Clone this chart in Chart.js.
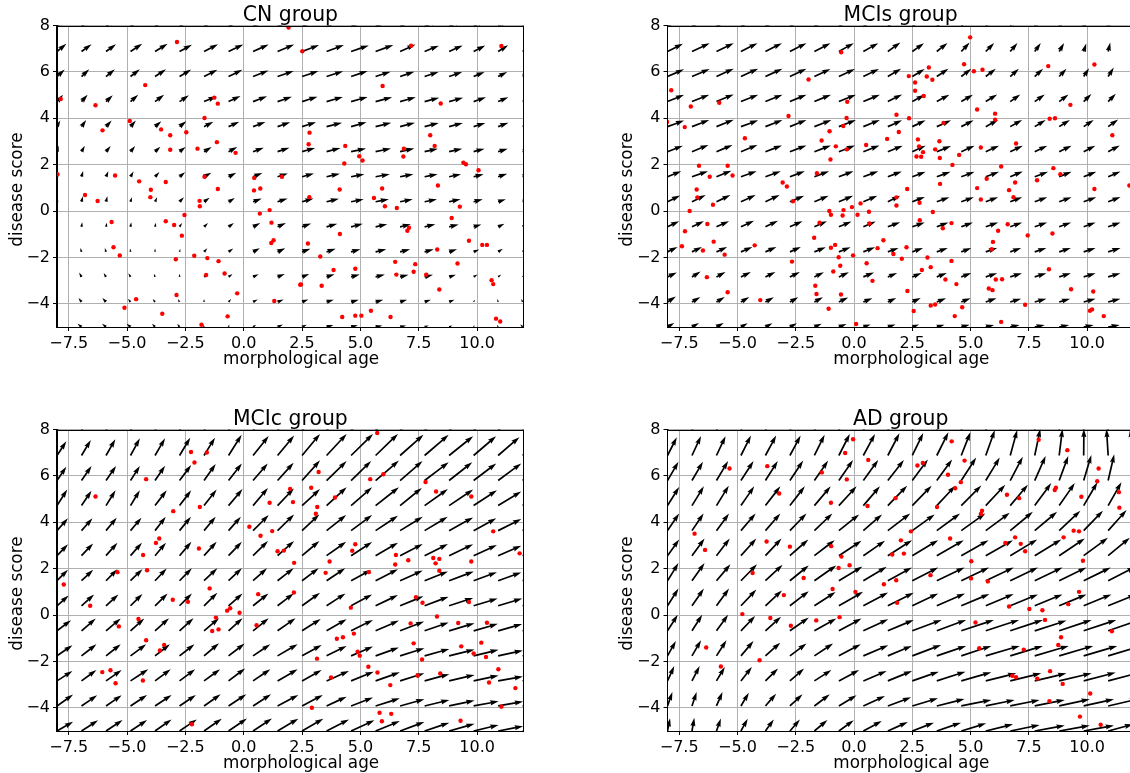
<!DOCTYPE html>
<html><head><meta charset="utf-8">
<script src="https://cdn.jsdelivr.net/npm/chart.js@4"></script>
<style>
html,body{margin:0;padding:0;background:#fff;width:1130px;height:773px;overflow:hidden}
canvas{position:absolute}
</style></head><body>
<canvas id="c0" style="left:0;top:0"></canvas>
<canvas id="c1" style="left:610px;top:0"></canvas>
<canvas id="c2" style="left:0;top:404px"></canvas>
<canvas id="c3" style="left:610px;top:404px"></canvas>
<script>
const xTicks=[-7.5,-5,-2.5,0,2.5,5,7.5,10];
const yTicks=[-4,-2,0,2,4,6,8];
const gridX=[-8,-6.95,-5.9,-4.85,-3.8,-2.75,-1.7,-0.65,0.4,1.45,2.5,3.55,4.6,5.65,6.7,7.75,8.8,9.85,10.9,11.95];
const gridY=[7.96,6.88,5.8,4.72,3.64,2.56,1.48,0.4,-0.68,-1.76,-2.84,-3.92,-5];

const cnX=[1.92,-2.86,-4.22,-7.84,-6.35,-1.26,-1.11,-1.68,-4.88,-6.05,-3.54,-3.15,-2.46,-3.15,-1.98,-1.15,-0.35,-7.98,-5.51,-1.68,0.45,1.64,-4.48,-3.34,-3.98,-1.11,0.44,0.71,-6.8,-6.26,-4.0,-1.89,-1.88,1.11,0.69,1.19,-2.54,-3.34,-5.66,-2.98,-2.65,1.28,1.18,-5.58,-5.31,-2.91,-2.12,-1.56,-1.08,-0.82,-1.61,2.42,-0.28,-2.88,-4.61,-5.11,1.31,-3.49,-0.69,-1.81,2.51,7.17,11.04,5.95,8.44,2.82,7.99,2.78,8.18,4.35,6.86,6.84,4.95,5.09,4.31,9.41,9.52,10.06,8.32,4.11,5.93,2.81,5.58,6.05,6.56,9.26,8.91,7.08,7.01,4.12,2.75,3.28,9.65,10.22,10.42,8.29,6.49,7.35,7.28,6.54,9.16,7.82,3.85,4.78,2.45,3.34,10.62,10.69,8.38,5.45,4.22,4.78,5.04,6.29,10.81,10.99];
const cnY=[7.91,7.29,5.43,4.83,4.56,4.89,4.63,4.01,3.88,3.48,3.52,3.27,3.4,2.64,2.69,2.97,2.51,1.59,1.53,1.48,1.43,1.48,1.28,1.25,0.92,0.95,0.89,0.97,0.69,0.43,0.6,0.44,0.21,0.04,-0.11,-0.5,-0.17,-0.44,-0.47,-0.6,-1.06,-1.26,-1.38,-1.56,-1.92,-2.08,-1.93,-2.03,-2.16,-2.69,-2.76,-3.18,-3.55,-3.62,-3.8,-4.17,-3.88,-4.43,-4.54,-4.9,6.89,7.13,7.12,5.39,4.64,3.38,3.27,2.88,2.81,2.81,2.69,2.35,2.36,2.18,2.05,2.08,2.02,1.76,1.1,0.93,0.97,0.6,0.56,0.21,0.13,0.19,-0.3,-0.72,-0.85,-0.99,-1.4,-1.96,-1.28,-1.46,-1.46,-1.66,-2.19,-2.29,-2.62,-2.74,-2.26,-2.75,-2.54,-2.49,-3.17,-3.22,-2.98,-3.15,-3.38,-4.3,-4.57,-4.51,-4.51,-4.57,-4.64,-4.76];

const mcisX=[-0.55,-7.84,-1.95,-7.0,-5.78,-0.29,-2.81,-8.02,-7.26,-0.32,-0.46,-1.05,-4.68,-1.39,0.52,-0.78,-0.31,-1.01,-6.65,-5.42,-6.19,-5.21,-1.59,-3.06,-6.75,-2.88,-6.72,-6.05,-7.05,-6.29,-7.25,-7.38,-6.48,-6.02,-5.55,-6.31,-5.42,-4.26,-4.02,-2.62,-2.66,-1.71,-1.48,-1.06,-0.99,-0.45,-0.49,-0.09,0.28,0.15,0.64,0.66,-0.99,-0.81,-0.66,-0.04,-0.59,-0.89,0.54,1.01,0.79,-1.66,-1.61,-0.56,-1.09,0.09,4.98,4.72,3.21,8.33,10.31,5.14,5.51,2.35,3.12,2.62,3.36,2.62,2.99,9.28,5.28,1.82,6.05,2.36,6.05,8.39,8.62,3.84,1.92,1.42,11.08,2.74,3.66,2.79,6.95,5.44,2.96,3.48,2.68,2.88,3.68,4.51,4.22,6.31,8.55,8.85,7.85,5.69,6.91,3.69,5.28,2.28,6.65,10.31,11.81,6.84,1.82,1.82,2.81,5.44,3.38,2.82,4.18,6.59,3.81,6.18,7.45,8.51,1.26,5.96,2.25,5.91,1.69,2.05,3.15,4.18,2.91,3.29,8.36,3.92,6.08,6.35,4.39,5.78,5.94,9.31,10.26,2.29,3.29,3.48,7.34,4.64,2.56,10.12,10.21,10.71,4.32,6.31];
const mcisY=[6.85,5.21,5.67,4.51,4.67,4.71,4.1,3.84,3.62,4.01,3.67,3.44,3.14,3.04,2.85,2.79,2.66,2.22,1.95,1.95,1.48,1.53,1.63,1.23,0.93,1.06,0.59,0.27,0,-0.56,-0.87,-1.52,-1.7,-1.32,-1.88,-2.85,-3.5,-1.48,-3.84,0.42,-2.18,-1.15,-0.5,0,-0.16,0.04,-0.19,0.17,0.33,-0.16,-0.03,-0.54,-1.58,-1.46,-1.99,-1.91,-2.36,-2.61,-2.25,-1.6,-3.01,-3.22,-3.58,-3.6,-4.21,-4.87,7.49,6.33,6.19,6.25,6.32,6.03,6.09,5.82,5.8,5.54,5.66,5.19,4.96,4.58,4.38,4.15,4.2,4.0,3.94,3.98,4.0,3.8,3.41,3.11,3.27,3.09,3.01,2.79,2.91,2.74,2.54,2.66,2.35,2.34,2.29,2.42,1.99,1.92,1.85,1.59,1.33,1.39,1.23,1.17,0.99,0.95,0.9,0.95,1.1,0.6,0.59,0.24,0.36,0.5,-0.04,-0.4,-0.52,-0.57,-0.74,-0.85,-1.05,-0.97,-1.26,-1.33,-1.56,-1.65,-1.85,-2.06,-2.0,-2.15,-2.54,-2.42,-2.51,-2.95,-2.95,-2.94,-3.15,-3.34,-3.41,-3.37,-3.47,-3.45,-4.07,-4.03,-4.04,-4.15,-4.31,-4.3,-4.24,-4.53,-4.53,-4.78];

const mcicX=[-2.26,-1.58,-2.11,-4.18,-6.35,1.99,1.11,-1.88,-3.02,0.24,0.72,1.22,-3.76,-3.62,-1.92,1.45,1.72,-4.31,-5.41,-4.14,-7.71,-1.46,0.62,-6.58,-3.04,-2.39,-0.58,-0.71,-0.18,-4.51,-1.19,-5.35,0.55,-1.08,-1.35,-4.18,-3.41,-3.59,-6.06,-5.71,-5.49,-4.32,-2.22,5.72,3.21,5.98,5.42,7.79,2.89,8.24,9.75,3.91,2.11,3.15,3.09,10.69,4.78,4.65,6.52,11.82,8.12,8.38,7.05,8.22,9.75,3.68,2.16,6.49,3.51,5.36,8.38,2.15,7.38,7.66,9.65,4.59,8.28,7.15,9.19,10.42,3.99,4.25,4.72,7.28,10.18,9.32,4.88,4.97,9.85,10.38,3.14,7.64,5.34,5.73,10.91,3.74,7.45,8.42,10.51,6.28,11.64,2.92,11.04,5.82,6.32,5.92,9.29];
const mcicY=[7.03,7.01,6.58,5.86,5.11,5.44,4.84,4.66,4.48,3.81,3.42,3.62,3.11,3.3,2.87,2.75,2.78,2.59,1.85,1.93,1.32,1.15,0.9,0.4,0.66,0.57,0.29,0.19,0.1,-0.17,-0.11,-0.49,-0.44,-0.62,-0.69,-1.09,-1.29,-1.53,-2.46,-2.38,-2.94,-2.82,-4.71,7.85,6.17,6.07,5.86,5.74,5.49,5.33,5.11,5.07,4.87,4.66,4.37,3.61,3.05,2.77,2.59,2.66,2.46,2.42,2.36,2.23,2.31,2.31,2.25,2.18,1.82,1.85,1.91,0.97,0.77,0.53,0.56,0.32,-0.06,-0.36,-0.34,-0.33,-1.02,-0.96,-0.8,-1.22,-1.19,-1.35,-1.58,-1.75,-1.66,-1.81,-1.88,-1.92,-2.23,-2.48,-2.34,-2.69,-2.61,-2.52,-2.91,-3.02,-3.15,-4.0,-3.95,-4.21,-4.26,-4.58,-4.56];

const adX=[-0.04,-0.38,0.61,-5.34,-3.72,-1.38,-0.31,-3.21,-0.99,0.58,-6.84,-6.39,-3.75,-2.75,-0.98,-0.54,-0.19,-0.66,-4.35,-2.16,-0.92,0.06,-3.01,-4.79,-3.59,-2.71,-1.62,-0.62,-6.34,-4.05,-5.71,4.19,7.92,9.15,4.74,2.72,2.95,10.49,4.03,10.43,4.58,4.34,11.36,8.66,8.61,9.75,6.56,7.08,1.78,3.56,11.38,5.49,5.44,2.44,9.42,9.65,8.99,4.12,6.91,2.01,6.49,7.15,7.34,1.64,2.14,9.82,5.03,3.28,5.02,1.81,5.74,1.28,9.65,1.85,9.19,6.65,7.52,8.08,8.19,5.21,11.06,8.88,8.76,5.37,7.28,8.41,6.79,6.95,7.86,8.95,10.13,8.38,9.69,10.58];
const adY=[7.58,6.99,6.69,6.32,6.42,6.15,5.85,5.24,4.84,4.7,3.51,2.81,3.17,2.95,2.97,2.52,2.15,2.03,1.81,1.6,1.12,1.0,0.86,0.04,-0.13,-0.46,-0.23,-0.09,-1.4,-1.95,-2.22,7.49,7.56,7.11,6.66,6.45,6.56,6.32,6.05,5.77,5.73,5.47,5.3,5.49,5.39,5.1,5.19,5.04,5.04,4.66,4.63,4.5,4.36,3.61,3.64,3.61,3.35,3.3,3.35,3.22,3.11,3.07,2.75,2.61,2.65,2.34,2.32,1.72,1.58,1.5,1.45,1.33,1.0,0.53,0.47,0.37,0.26,0.21,-0.21,-0.32,-0.7,-0.96,-1.29,-1.43,-1.49,-2.42,-2.62,-2.68,-2.74,-2.97,-3.38,-3.71,-4.38,-4.73];

const cnU=[
[.42,.44,.46,.5,.55,.56,.62,.66,.7,.72,.74,.75,.76,.76,.68,.62,.58,.5,.42,.36],
[.40,.43,.43,.50,.54,.53,.60,.63,.67,.71,.73,.74,.76,.76,.66,.61,.58,.50,.43,.38],
[.33,.33,.38,.40,.47,.50,.57,.59,.66,.69,.70,.71,.71,.64,.61,.60,.56,.47,.39,.34],
[.26,.26,.29,.33,.39,.40,.54,.51,.60,.61,.66,.70,.71,.71,.67,.63,.60,.53,.44,.38],
[.14,.20,.24,.23,.27,.29,.40,.46,.53,.54,.60,.66,.66,.67,.64,.61,.59,.50,.44,.38],
[.07,.14,.20,.20,.23,.26,.33,.37,.46,.51,.56,.60,.64,.66,.61,.57,.56,.47,.41,.36],
[.03,.07,.10,.13,.19,.24,.31,.33,.40,.44,.51,.57,.57,.61,.57,.56,.51,.43,.39,.33],
[.02,.06,.06,.06,.09,.19,.24,.27,.37,.43,.49,.53,.54,.57,.54,.53,.49,.39,.33,.28],
[.02,.03,.04,.03,.04,.11,.17,.23,.31,.36,.39,.46,.50,.50,.46,.46,.41,.33,.27,.22],
[0,-.05,-.05,-.02,0,.03,.14,.20,.29,.33,.36,.39,.40,.46,.43,.39,.34,.24,.20,.14],
[-.05,-.10,-.10,-.09,-.05,0,.14,.17,.24,.31,.31,.34,.37,.40,.36,.36,.29,.17,.13,.08],
[-.1,-.13,-.16,-.11,-.10,-.07,0,.11,.20,.26,.27,.31,.33,.33,.30,.27,.23,.06,-.03,-.06],
[-.15,-.17,-.17,-.17,-.13,-.10,-.03,.03,.13,.23,.2,.29,.29,.29,.26,.17,.14,.03,-.05,-.10]];
const cnV=[
[.33,.33,.33,.33,.33,.31,.31,.31,.31,.31,.29,.29,.28,.28,.3,.26,.27,.27,.28,.26],
[.33,.31,.31,.33,.33,.29,.31,.30,.30,.30,.28,.28,.26,.28,.30,.25,.26,.26,.27,.25],
[.30,.31,.31,.31,.31,.30,.29,.29,.26,.24,.24,.23,.24,.21,.21,.20,.20,.20,.20,.20],
[.29,.30,.27,.29,.29,.27,.23,.24,.23,.21,.21,.20,.20,.19,.19,.17,.17,.19,.19,.19],
[.26,.29,.26,.26,.23,.23,.21,.21,.20,.19,.19,.17,.19,.17,.17,.16,.16,.16,.17,.17],
[.26,.26,.24,.24,.21,.20,.20,.20,.17,.17,.16,.16,.14,.14,.14,.13,.13,.13,.13,.13],
[.2,.25,.24,.23,.20,.19,.17,.17,.16,.14,.14,.13,.11,.11,.11,.11,.11,.11,.13,.13],
[.2,.24,.24,.20,.20,.19,.17,.16,.14,.14,.14,.13,.11,.11,.11,.11,.11,.11,.11,.11],
[.11,.20,.18,.20,.17,.16,.16,.16,.16,.16,.14,.13,.13,.11,.11,.11,.10,.10,.13,.13],
[.1,.17,.17,.15,.14,.13,.16,.14,.16,.16,.13,.13,.11,.11,.11,.11,.11,.10,.13,.13],
[.12,.19,.17,.16,.14,.14,.13,.13,.11,.13,.13,.11,.10,.10,.09,.09,.09,.10,.10,.10],
[.13,.17,.17,.14,.13,.13,.13,.13,.11,.11,.11,.10,.10,.09,.09,.09,.09,.10,.13,.13],
[.13,.14,.14,.14,.14,.14,.11,.11,.10,.11,.10,.09,.08,.07,.07,.07,.07,.09,.10,.12]];

const mcisU=[
[.66,.72,.72,.70,.70,.68,.66,.62,.6,.52,.48,.44,.34,.32,.28,.24,.18,.1,.06,.04],
[.66,.76,.74,.71,.71,.71,.69,.64,.64,.54,.50,.46,.36,.36,.31,.26,.21,.11,.09,.07],
[.71,.76,.74,.74,.73,.71,.69,.69,.67,.57,.53,.50,.43,.43,.37,.36,.31,.23,.24,.22],
[.71,.74,.74,.74,.73,.71,.71,.73,.71,.61,.53,.54,.50,.49,.43,.43,.40,.33,.33,.32],
[.71,.74,.74,.74,.73,.71,.73,.73,.71,.61,.57,.61,.53,.53,.51,.47,.46,.43,.43,.42],
[.66,.71,.69,.71,.71,.71,.71,.69,.69,.64,.57,.61,.57,.57,.54,.54,.53,.50,.50,.50],
[.59,.69,.64,.67,.66,.64,.63,.63,.64,.60,.57,.59,.57,.57,.54,.57,.53,.54,.53,.53],
[.54,.59,.60,.63,.61,.61,.61,.61,.60,.53,.54,.54,.54,.53,.51,.54,.53,.54,.53,.53],
[.50,.51,.54,.56,.54,.54,.54,.54,.53,.53,.53,.50,.50,.53,.51,.53,.51,.51,.53,.53],
[.43,.43,.46,.49,.47,.47,.49,.50,.50,.46,.46,.47,.43,.49,.47,.50,.50,.51,.53,.53],
[.40,.37,.39,.43,.43,.43,.41,.43,.46,.40,.40,.43,.43,.49,.50,.50,.50,.51,.53,.53],
[.36,.36,.36,.36,.36,.36,.37,.40,.39,.36,.36,.40,.40,.46,.47,.50,.47,.51,.53,.53],
[.29,.30,.31,.29,.30,.30,.31,.33,.31,.33,.29,.33,.36,.36,.40,.43,.43,.43,.50,.50]];
const mcisV=[
[.36,.36,.36,.36,.36,.36,.36,.36,.36,.38,.36,.37,.38,.37,.37,.37,.37,.35,.39,.39],
[.33,.36,.36,.36,.36,.36,.36,.36,.36,.39,.36,.37,.39,.37,.37,.37,.37,.34,.39,.39],
[.31,.33,.34,.34,.34,.34,.33,.33,.33,.34,.33,.34,.34,.34,.34,.34,.34,.36,.39,.39],
[.29,.30,.31,.30,.30,.30,.30,.30,.30,.31,.29,.30,.30,.31,.31,.31,.31,.33,.34,.34],
[.26,.29,.30,.27,.29,.29,.29,.29,.29,.27,.27,.27,.27,.29,.29,.29,.29,.29,.31,.31],
[.26,.29,.29,.29,.27,.27,.27,.27,.27,.26,.26,.24,.26,.26,.26,.26,.26,.26,.27,.27],
[.24,.24,.26,.24,.24,.24,.24,.24,.24,.23,.21,.21,.21,.21,.23,.21,.21,.21,.23,.23],
[.27,.29,.29,.29,.29,.26,.26,.26,.26,.26,.21,.20,.20,.20,.20,.20,.20,.20,.21,.21],
[.24,.24,.24,.26,.26,.24,.24,.23,.23,.20,.19,.19,.19,.19,.19,.19,.19,.19,.19,.19],
[.21,.21,.21,.21,.21,.21,.20,.20,.20,.17,.17,.17,.17,.17,.17,.17,.17,.17,.17,.17],
[.19,.23,.21,.21,.21,.21,.20,.20,.19,.17,.17,.17,.17,.16,.16,.16,.16,.16,.16,.16],
[.23,.21,.21,.21,.20,.20,.20,.19,.16,.17,.17,.16,.16,.16,.14,.14,.14,.14,.14,.14],
[.17,.17,.17,.16,.16,.16,.14,.13,.11,.11,.11,.10,.10,.09,.09,.09,.09,.09,.09,.09]];

const mcicU=[
[.4,.4,.4,.4,.43,.46,.47,.56,.66,.7,.76,.85,.92,.95,1.0,1.03,1.03,.96,.91,.9],
[.40,.40,.40,.40,.43,.46,.47,.56,.67,.71,.77,.86,.94,.96,1.0,1.03,1.03,.96,.91,.9],
[.40,.43,.43,.40,.43,.50,.50,.57,.63,.69,.77,.86,.86,1.0,.96,1.03,.99,.97,.99,.97],
[.44,.43,.41,.40,.50,.50,.54,.60,.64,.70,.77,.86,.90,1.0,.93,1.0,1.03,1.0,.99,.97],
[.47,.47,.46,.47,.46,.49,.50,.53,.67,.71,.74,.84,.90,.96,.97,.99,1.03,.97,.99,.99],
[.47,.50,.49,.49,.47,.51,.54,.57,.64,.71,.74,.84,.90,.96,.97,1.0,1.03,1.0,.99,.99],
[.47,.50,.49,.51,.50,.53,.57,.57,.60,.69,.71,.80,.86,.96,.97,1.0,1.06,1.0,.99,.99],
[.50,.54,.53,.51,.54,.53,.57,.60,.66,.69,.77,.81,.90,.96,1.0,1.03,1.03,1.03,1.03,1.03],
[.60,.61,.63,.59,.60,.60,.64,.60,.67,.77,.80,.86,.94,1.0,1.03,1.03,1.09,1.04,1.03,1.03],
[.66,.64,.63,.67,.64,.64,.64,.69,.74,.86,.84,.86,.94,1.0,1.04,1.06,1.09,1.07,1.06,1.04],
[.66,.64,.67,.76,.67,.67,.69,.71,.74,.86,.84,.96,.97,1.04,1.04,1.06,1.09,1.07,1.06,1.04],
[.69,.67,.67,.71,.71,.70,.71,.76,.77,.89,.89,.86,.94,1.04,1.04,1.06,1.09,1.07,1.07,1.07],
[.69,.71,.71,.71,.71,.74,.76,.79,.81,.89,.91,.96,1.0,1.04,1.04,1.06,1.09,1.07,1.07,1.07]];
const mcicV=[
[.65,.7,.72,.76,.76,.78,.78,.9,.85,.88,.94,.94,.94,.94,.9,.9,.84,.84,.8,.78],
[.61,.67,.70,.74,.74,.77,.77,.89,.84,.86,.93,.93,.93,.93,.89,.89,.83,.83,.79,.75],
[.60,.63,.63,.63,.64,.67,.71,.74,.74,.77,.87,.84,.84,.86,.84,.79,.79,.74,.74,.70],
[.69,.64,.66,.66,.66,.66,.69,.71,.76,.74,.71,.79,.79,.79,.76,.71,.69,.66,.61,.60],
[.53,.53,.56,.56,.60,.60,.60,.60,.67,.70,.70,.67,.67,.64,.60,.60,.57,.53,.50,.48],
[.49,.53,.56,.56,.56,.60,.60,.60,.63,.63,.63,.60,.59,.56,.50,.50,.49,.46,.43,.41],
[.47,.47,.50,.50,.53,.54,.54,.54,.54,.54,.54,.54,.47,.50,.44,.40,.40,.37,.36,.35],
[.44,.49,.49,.51,.53,.53,.56,.53,.53,.53,.56,.53,.49,.46,.41,.39,.34,.31,.31,.30],
[.46,.53,.53,.53,.54,.54,.54,.54,.54,.54,.51,.50,.47,.44,.40,.36,.33,.30,.29,.28],
[.46,.50,.50,.50,.50,.50,.54,.53,.50,.50,.47,.43,.40,.36,.33,.30,.27,.26,.23,.22],
[.43,.47,.47,.50,.50,.50,.50,.54,.50,.50,.47,.43,.40,.37,.33,.29,.26,.23,.19,.18],
[.49,.46,.46,.47,.47,.47,.50,.50,.50,.47,.47,.40,.36,.33,.29,.26,.23,.20,.19,.16],
[.40,.46,.47,.47,.50,.50,.53,.54,.54,.53,.53,.50,.46,.43,.39,.36,.31,.26,.21,.18]];

const adU=[
[.4,.4,.4,.44,.46,.46,.44,.46,.46,.44,.42,.42,.32,.3,.22,.16,.08,-.02,-.1,-.14],
[.40,.39,.39,.43,.46,.46,.44,.47,.50,.50,.47,.50,.39,.39,.30,.24,.14,.01,-.07,-.1],
[.47,.47,.50,.54,.53,.57,.59,.61,.64,.69,.67,.66,.64,.60,.54,.47,.39,.33,.26,.22],
[.50,.51,.53,.57,.64,.64,.70,.76,.71,.83,.83,.80,.86,.84,.76,.71,.67,.59,.57,.54],
[.50,.50,.54,.63,.64,.71,.77,.87,.80,.96,.96,1.0,1.03,1.03,.97,.96,.91,.83,.79,.76],
[.50,.54,.57,.66,.69,.79,.87,.97,.93,1.04,1.11,1.16,1.17,1.17,1.16,1.14,1.10,1.04,.93,.9],
[.47,.54,.60,.69,.74,.81,.94,1.01,1.0,1.03,1.11,1.19,1.19,1.20,1.19,1.19,1.17,1.16,1.17,1.17],
[.47,.51,.54,.66,.71,.81,.91,1.04,1.06,1.11,1.11,1.21,1.21,1.20,1.19,1.19,1.17,1.19,1.21,1.21],
[.44,.44,.50,.61,.67,.81,.94,.97,1.07,1.11,1.26,1.26,1.40,1.43,1.40,1.36,1.39,1.40,1.43,1.43],
[.36,.39,.43,.54,.64,.71,.80,.94,1.07,1.03,1.24,1.26,1.29,1.46,1.40,1.46,1.46,1.44,1.43,1.43],
[.29,.33,.36,.47,.54,.61,.73,.87,1.0,1.04,1.14,1.23,1.29,1.31,1.33,1.36,1.39,1.37,1.36,1.36],
[.21,.20,.26,.34,.46,.54,.66,.76,.93,1.0,1.10,1.19,1.29,1.24,1.26,1.29,1.31,1.30,1.29,1.29],
[.11,.10,.19,.29,.36,.43,.56,.64,.79,.86,.93,1.04,1.07,1.17,1.26,1.29,1.31,1.30,1.07,1.07]];
const adV=[
[.8,.85,.85,.88,.88,.88,.92,.95,.95,.98,1.0,1.02,1.05,1.12,1.14,1.18,1.18,1.18,1.18,1.18],
[.79,.84,.83,.86,.86,.86,.89,.93,.93,.96,.97,1.0,1.0,1.1,1.1,1.15,1.15,1.15,1.15,1.15],
[.81,.81,.84,.84,.84,.86,.86,.89,.89,.89,.91,.91,.99,.99,1.03,1.06,1.06,1.10,1.13,1.15],
[.80,.83,.86,.83,.83,.83,.83,.83,.83,.86,.86,.86,.87,.90,.90,.97,.97,1.01,1.01,1.03],
[.74,.74,.74,.74,.74,.74,.74,.70,.70,.74,.70,.74,.74,.77,.81,.81,.86,.86,.89,.9],
[.70,.74,.74,.74,.74,.70,.67,.64,.64,.67,.67,.67,.67,.67,.70,.70,.74,.77,.77,.78],
[.76,.76,.71,.71,.69,.66,.66,.61,.60,.57,.57,.57,.57,.57,.57,.57,.57,.57,.60,.60],
[.74,.74,.74,.70,.66,.63,.59,.60,.57,.56,.53,.53,.51,.51,.49,.49,.49,.49,.49,.49],
[.69,.69,.69,.64,.61,.57,.53,.53,.50,.47,.47,.47,.47,.47,.47,.44,.47,.47,.50,.50],
[.64,.67,.67,.64,.57,.53,.53,.50,.46,.43,.47,.43,.43,.43,.43,.43,.43,.43,.43,.43],
[.64,.64,.60,.60,.54,.53,.47,.47,.43,.43,.40,.40,.37,.33,.33,.33,.33,.36,.36,.36],
[.60,.60,.60,.57,.53,.50,.50,.46,.43,.37,.33,.30,.26,.26,.26,.26,.29,.29,.30,.30],
[.55,.57,.54,.53,.50,.50,.47,.46,.43,.39,.36,.36,.33,.29,.26,.24,.24,.24,.29,.29]];

const groupTitles=['CN group','MCIs group','MCIc group','AD group'];
const FONT='"DejaVu Sans"';
const minus=s=>String(s).replace('-','\u2212');
const NB='\u00a0';

const quiverPlugin={id:'quiver',
  beforeDatasetsDraw(chart){
    const ds=chart.data.datasets[1],{x:sx,y:sy}=chart.scales,a=chart.chartArea,c=chart.ctx;
    const w=1.7;
    c.save();c.beginPath();c.rect(a.left,a.top,a.right-a.left,a.bottom-a.top);c.clip();
    c.fillStyle='#000';
    ds.data.forEach(d=>{
      const x0=sx.getPixelForValue(d.x),y0=sy.getPixelForValue(d.y);
      const x1=sx.getPixelForValue(d.x+d.u),y1=sy.getPixelForValue(d.y+d.v);
      const L=Math.hypot(x1-x0,y1-y0);if(L<0.01)return;
      const Lm=Math.max(L,5*w),s=Math.min(1,L/(5*w));
      c.save();c.translate(x0,y0);c.rotate(Math.atan2(y1-y0,x1-x0));c.scale(s,s);
      c.beginPath();
      c.moveTo(0,-w/2);c.lineTo(Lm-4.5*w,-w/2);c.lineTo(Lm-5*w,-1.5*w);c.lineTo(Lm,0);
      c.lineTo(Lm-5*w,1.5*w);c.lineTo(Lm-4.5*w,w/2);c.lineTo(0,w/2);c.closePath();c.fill();
      c.restore();
    });
    c.restore();
  },
  afterDraw(chart){
    const a=chart.chartArea,c=chart.ctx;
    c.save();c.strokeStyle='#000';c.lineWidth=1;
    c.strokeRect(Math.round(a.left)+.5-1,Math.round(a.top)+.5,Math.round(a.right-a.left),Math.round(a.bottom-a.top));
    c.restore();
  }
};

function build(id,title,px,py,U,V,yW){
  const vec=[];
  gridY.forEach((y,r)=>gridX.forEach((x,k)=>vec.push({x,y,u:U[r][k],v:V[r][k]})));
  const el=document.getElementById(id);
  el.width=526.5;el.height=375;
  return new Chart(el,{type:'scatter',
    data:{datasets:[
      {label:'subjects',data:px.map((x,i)=>({x,y:py[i]})),backgroundColor:'#ff0000',borderWidth:0,pointRadius:2.2,pointHoverRadius:2.2,clip:0},
      {label:'gradient',data:vec,pointRadius:0,pointHoverRadius:0,borderWidth:0,showLine:false}
    ]},
    options:{responsive:false,animation:false,events:[],
      layout:{padding:{left:0,right:0.7,top:0,bottom:0}},
      plugins:{legend:{display:false},tooltip:{enabled:false},
        title:{display:true,text:title,color:'#000',fullSize:false,font:{family:FONT,size:20.4,weight:'normal',lineHeight:0.8},padding:{top:8,bottom:1.2}}},
      scales:{
        x:{type:'linear',min:-8,max:12,
          afterBuildTicks(s){s.ticks=xTicks.map(value=>({value}));},
          afterFit(s){s.height=48;},
          grid:{color:'#b0b0b0',lineWidth:1,tickColor:'#000',tickLength:4,tickWidth:1},
          border:{color:'#000',width:1},
          ticks:{color:'#000',autoSkip:false,maxRotation:0,padding:3.5,font:{family:FONT,size:16},callback:v=>minus(v.toFixed(1))},
          title:{display:true,text:NB.repeat(4)+'morphological age',color:'#000',font:{family:FONT,size:16.8},padding:{top:0,bottom:5.5}}},
        y:{type:'linear',min:-5,max:8,
          afterBuildTicks(s){s.ticks=yTicks.map(value=>({value}));},
          afterFit(s){s.width=yW;},
          grid:{color:'#b0b0b0',lineWidth:1,tickColor:'#000',tickLength:4,tickWidth:1},
          border:{color:'#000',width:1},
          ticks:{color:'#000',autoSkip:false,padding:3,font:{family:FONT,size:16},callback:v=>minus(v)},
          title:{display:true,text:'disease score'+NB.repeat(5),color:'#000',font:{family:FONT,size:16.8},padding:{top:8,bottom:0}}}
      }},
    plugins:[quiverPlugin]
  });
}
build('c0',groupTitles[0],cnX,cnY,cnU,cnV,57);
build('c1',groupTitles[1],mcisX,mcisY,mcisU,mcisV,57.5);
build('c2',groupTitles[2],mcicX,mcicY,mcicU,mcicV,57);
build('c3',groupTitles[3],adX,adY,adU,adV,57.5);
</script>
</body></html>
